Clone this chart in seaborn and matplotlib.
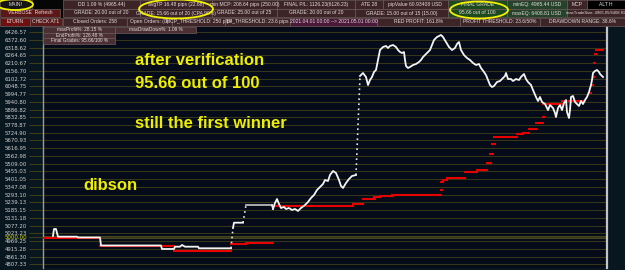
import numpy as np
import pandas as pd
import seaborn as sns
import matplotlib
matplotlib.use("Agg")
import matplotlib.pyplot as plt
from matplotlib.patches import Rectangle, Ellipse

# ---------------- data ----------------
eq_bar = [10, 11, 13, 14, 15, 34, 35, 57, 58, 118, 119, 131, 132, 137, 139, 142, 155, 156, 188,
          190, 191, 200,
          203, 229,
          230, 232, 234, 236, 238, 241, 243, 246, 249, 252, 255, 258, 262, 265, 268, 271, 274, 277,
          280, 282, 285, 287, 290, 293, 296, 298, 300, 303, 306, 309, 313,
          317, 320, 323, 325, 327, 329, 331, 333, 335, 337, 340, 343, 345, 347, 350, 353, 355, 357,
          359, 361, 362, 363, 365, 367, 370, 373, 376, 378, 380, 383, 385, 387, 389, 391, 394, 396,
          398, 400, 403, 406, 409, 412, 414, 416, 418, 421, 424, 427, 430, 433, 436, 438, 441, 443,
          445, 447, 449, 451, 454, 457, 460, 462, 463, 465, 468, 470, 473, 476, 478, 481, 483, 485,
          488, 490, 493, 495, 497, 499, 502, 505, 507, 510, 512, 513, 515, 517, 519, 521, 523, 524,
          526, 527, 528, 530, 532, 534, 536, 538, 540, 542, 544, 546, 548, 549, 550, 552, 554, 556,
          557, 559, 560]
eq_val = [5005.8, 5054.6, 5054.6, 5026.7, 5001.0, 5001.0, 4995.4, 4995.4, 4939.7, 4939.7, 4915.3,
          4915.3, 4931.3, 4931.3, 4943.2, 4931.3, 4931.3, 4920.2, 4920.2,
          5061.6, 5098.5, 5098.5,
          5221.7, 5221.7,
          5193.9, 5235.7, 5263.5, 5228.7, 5200.8, 5207.8, 5193.9, 5200.8, 5186.9, 5193.9, 5180.0,
          5200.8, 5221.7, 5242.6, 5270.5, 5291.4, 5326.2, 5347.1, 5368.0, 5395.9, 5388.9, 5430.7,
          5458.5, 5444.6, 5395.9, 5354.1, 5340.1, 5375.0, 5402.8, 5423.7, 5430.7,
          6120.2, 6141.1, 6113.2, 6057.5, 6092.3, 6113.2, 6148.0, 6161.9, 6231.6, 6301.2, 6322.1,
          6329.1, 6315.2, 6329.1, 6336.1, 6322.1, 6301.2, 6287.3, 6280.3, 6287.3, 6231.6, 6189.8,
          6175.9, 6182.8, 6196.8, 6203.7, 6217.7, 6231.6, 6252.5, 6273.4, 6287.3, 6301.2, 6336.1,
          6370.9, 6391.8, 6398.7, 6405.7, 6391.8, 6356.9, 6322.1, 6301.2, 6315.2, 6343.0, 6356.9,
          6301.2, 6266.4, 6245.5, 6231.6, 6210.7, 6196.8, 6203.7, 6175.9, 6148.0, 6127.1, 6092.3,
          6057.5, 6043.5, 6050.5, 6078.4, 6085.3, 6106.2, 6120.2, 6141.1, 6099.2, 6099.2, 6085.3,
          6099.2, 6092.3, 6113.2, 6134.1, 6099.2, 6078.4, 6057.5, 6022.6, 5973.9, 5946.0, 5973.9,
          5939.1, 5925.1, 5883.3, 5918.2, 5897.3, 5862.4, 5834.6, 5897.3, 5918.2, 5883.3, 5932.1,
          5953.0, 5869.4, 5827.6, 5883.3, 5973.9, 5980.8, 5939.1, 5925.1, 5911.2, 5946.0, 5925.1,
          5953.0, 5973.9, 6008.7, 6057.5, 6092.3, 6141.1, 6155.0, 6161.9, 6148.0, 6134.1, 6120.2,
          6113.2]

red_start = [0, 57, 131, 188, 203, 229, 310, 320, 331, 337, 349, 398, 398, 400, 404, 422, 434,
             444, 447, 449, 451, 474, 480, 486, 493, 500, 500, 519, 547, 549, 550, 551, 552, 553]
red_end = [57, 131, 188, 203, 229, 310, 320, 332, 337, 349, 398, 399, 400, 404, 422, 434, 444,
           448, 450, 452, 474, 480, 486, 493, 500, 501, 519, 542, 548, 550, 551, 552, 553, 560]
red_val = [4991.9, 4932.7, 4901.4, 4948.0, 4955.0, 5214.8, 5228.7, 5263.5, 5277.4, 5284.4, 5291.4,
           5326.2, 5381.9, 5395.8, 5411.9, 5453.7, 5465.5, 5516.3, 5576.9, 5646.6, 5695.3, 5716.2,
           5725.3, 5749.0, 5794.9, 5834.6, 5925.1, 5946.0, 6001.7, 6057.5, 6113.2, 6210.7, 6273.4,
           6301.2]

y_tick_labels = ["6426.57", "6372.60", "6318.62", "6264.65", "6210.67", "6156.70", "6102.72",
                 "6048.75", "5994.77", "5940.80", "5886.82", "5832.85", "5778.87", "5724.90",
                 "5670.93", "5616.95", "5562.98", "5509.00", "5455.03", "5401.05", "5347.08",
                 "5293.10", "5239.13", "5185.15", "5131.18", "5077.20", "5023.23", "4969.25",
                 "4915.28", "4861.30", "4807.33"]
base_level = 5000.00
base_label = "5000.00"

header_row1 = [("MAIN!", 0, 32), ("DD 1.09 % (4965.44)", 63, 140), ("avgTP 16.48 pips (22.68)", 140, 212),
               ("min MCP: 208.64 pips (250.00)", 212, 277), ("FINAL P/L: 1126.23(6126.23)", 277, 355),
               ("ATE 28", 355, 383), ("pipValue 60.93408 USD", 383, 448), ("FINAL GRADE", 448, 507),
               ("minEQ: 4965.44 USD", 507, 567), ("MCP", 567, 587), ("ALT H", 587, 625)]
header_row2 = [("VERBOSE  Refresh", 0, 60), ("GRADE: 20.00 out of 20", 63, 140),
               ("GRADE: 15.66 out of 20 (CPA 99%)", 140, 212), ("GRADE: 25.00 out of 25", 212, 277),
               ("GRADE: 20.00 out of 20", 277, 355), ("GRADE: 15.00 out of 15 (15.00)", 355, 448),
               ("95.66 out of 100", 448, 507), ("maxEQ: 6408.81 USD", 507, 567),
               ("maxTradeSize: 4965.05/6408.81", 567, 625)]
header_row3 = [("ETURN", 0, 30), ("CHECK AT1", 30, 62), ("Closed Orders: 258", 63, 127),
               ("Open Orders: (0)", 127, 172), ("MCP_THRESHOLD: 250 pips", 172, 225),
               ("TP_THRESHOLD: 23.6 pips", 225, 290), ("2021.04.01 00:00 --> 2021.05.01 00:00", 290, 377),
               ("RED PROFIT: 161.8%", 377, 460), ("PROFIT THRESHOLD: 23.6/50%", 460, 540),
               ("DRAWDOWN RANGE: 38.6%", 540, 625)]
stats_boxes = [("maxProfit%: 28.15 %", 43, 115, 27, 32.5), ("maxDrawDown%: 1.09 %", 115, 196, 27, 32.5),
               ("EndProfit%: 126.48 %", 43, 115, 32.5, 38), ("Final Grades: 95.66/100 %", 43, 115, 38, 43.5)]
notes = [("after verification", 135, 61), ("95.66 out of 100", 135, 84),
         ("still the first winner", 135, 124), ("dibson", 83, 186)]

# ---------------- figure ----------------
W, H = 625, 270
fig = plt.figure(figsize=(W / 100, H / 100), dpi=100, facecolor="#08161f")

def fx(x):
    return x / W

def fy(y):
    return 1 - y / H

ax = fig.add_axes([fx(43), fy(268), fx(607 - 43), (268 - 26) / H])
ax.set_facecolor("#050b18")

# red step segments
red_rows = []
for i, (s, e, v) in enumerate(zip(red_start, red_end, red_val)):
    red_rows.append({"bar": s, "val": v, "seg": i})
    red_rows.append({"bar": e, "val": v, "seg": i})
red_df = pd.DataFrame(red_rows)
sns.lineplot(data=red_df, x="bar", y="val", units="seg", estimator=None, color="#e60000",
             linewidth=1.5, ax=ax, legend=False, zorder=3)

# white equity line in parts
eq_df = pd.DataFrame({"bar": eq_bar, "val": eq_val})
breaks = [188, 200, 229, 313]
dotted = [True, True, False, True]
part_colors = ["#f4f4f4", "#f4f4f4", "#b8b8b8", "#f4f4f4", "#f4f4f4"]
eq_df["part"] = np.searchsorted(breaks, eq_df["bar"].values, side="left")
for p, grp in eq_df.groupby("part"):
    sns.lineplot(data=grp, x="bar", y="val", estimator=None, sort=False,
                 color=part_colors[p], linewidth=1.3, ax=ax, zorder=4)
for k in range(len(breaks)):
    a = eq_df[eq_df["part"] == k].iloc[-1]
    b = eq_df[eq_df["part"] == k + 1].iloc[0]
    ax.plot([a["bar"], b["bar"]], [a["val"], b["val"]], color="#e8e8e8",
            linewidth=1.2, linestyle=(0, (1, 2)) if dotted[k] else "-", zorder=4)

# axes styling
tick_vals = [float(t) for t in y_tick_labels]
ax.set_ylim(4782.9, 6468.4)
ax.set_xlim(0, 564)
ax.set_yticks(tick_vals + [base_level])
ax.set_yticklabels(y_tick_labels + [base_label])
for lab in ax.get_yticklabels():
    lab.set_color("#d0d0d0")
ax.get_yticklabels()[-1].set_color("#d6d600")
ax.tick_params(axis="y", length=10, width=0.8, color="#3c3c18", pad=1.5, labelsize=3.9)
ax.set_xticks([])
ax.set_xlabel("")
ax.set_ylabel("")
ax.grid(axis="y", color="#35351a", linewidth=0.8, zorder=0)
ax.axhline(base_level, color="#5e5e26", linewidth=1.8, zorder=1)
for s in ["top", "bottom"]:
    ax.spines[s].set_visible(False)
ax.spines["left"].set_color("#9a9a9a")
ax.spines["left"].set_linewidth(1.0)
ax.spines["right"].set_color("#c4c4c4")
ax.spines["right"].set_linewidth(1.6)

# header
fig.add_artist(Rectangle((0, fy(26)), 1, 26 / H, transform=fig.transFigure,
                         facecolor="#060606", edgecolor="none", zorder=5))
fills = {"MAIN!": "#141414", "FINAL GRADE": "#1d4a1f", "minEQ: 4965.44 USD": "#25432a",
         "95.66 out of 100": "#1d4a1f", "maxEQ: 6408.81 USD": "#25432a", "ALT H": "#000000",
         "VERBOSE  Refresh": "#5e1717", "ETURN": "#701010", "CHECK AT1": "#5a1a1a",
         "2021.04.01 00:00 --> 2021.05.01 00:00": "#4a1838"}
hdr_font = ["Liberation Sans Narrow", "Liberation Sans", "DejaVu Sans"]

def box(text, x0, x1, y0, y1, fill, fs=3.6):
    fig.add_artist(Rectangle((fx(x0), fy(y1)), fx(x1 - x0), (y1 - y0) / H,
                             transform=fig.transFigure, facecolor=fill,
                             edgecolor="#6e5c5c", linewidth=0.5, zorder=6))
    fig.text(fx((x0 + x1) / 2), fy((y0 + y1) / 2), text, ha="center", va="center",
             fontsize=fs, color="#e4dcdc", family=hdr_font, zorder=7)

for row, (y0, y1) in zip([header_row1, header_row2, header_row3],
                         [(0.5, 8.7), (8.9, 17.1), (17.5, 25.8)]):
    for text, x0, x1 in row:
        fs = 3.0 if text.startswith("maxTradeSize") else 3.6
        box(text, x0, x1, y0, y1, fills.get(text, "#3c2427"), fs=fs)

for text, x0, x1, y0, y1 in stats_boxes:
    box(text, x0, x1, y0, y1, "#4a2f33", fs=3.4)

for cx, cy, w, h in [(15, 4.5, 36, 11), (176, 9, 74, 19), (479, 10, 58, 17)]:
    fig.add_artist(Ellipse((fx(cx), fy(cy)), w / W, h / H, transform=fig.transFigure,
                           facecolor="none", edgecolor="#f2f200", linewidth=1.3, zorder=8))

for text, x, y in notes:
    fig.text(fx(x), fy(y), text, ha="left", va="center", fontsize=12, fontweight="bold",
             color="#eeee00", family=["Liberation Sans", "DejaVu Sans"], zorder=9)

fig.savefig("out.png", dpi=100, facecolor=fig.get_facecolor())
